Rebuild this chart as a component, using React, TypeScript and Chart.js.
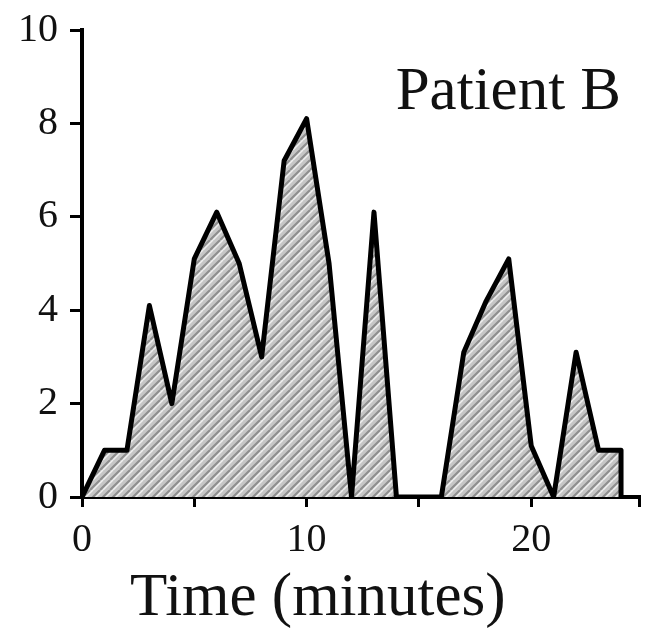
import React, { useEffect, useRef } from "react";
import { Chart, registerables } from "chart.js";

Chart.register(...registerables);

const timeMinutes = [0, 1, 2, 3, 4, 5, 6, 7, 8, 9, 10, 11, 12, 13, 14, 15, 16, 17, 18, 19, 20, 21, 22, 23, 24, 24];
const values = [0, 1, 1, 4.1, 2, 5.1, 6.1, 5, 3, 7.2, 8.1, 5, 0, 6.1, 0, 0, 0, 3.1, 4.2, 5.1, 1.1, 0, 3.1, 1, 1, 0];
const xTickLabels: Record<number, string> = { 0: "0", 10: "10", 20: "20" };
const yTicks = [0, 2, 4, 6, 8, 10];
const panelLabel = "Patient B";
const xTitle = "Time (minutes)";

const SERIF = "'Liberation Serif', 'DejaVu Serif', serif";

function makePattern(): CanvasPattern | string {
  const c = document.createElement("canvas");
  c.width = 10;
  c.height = 10;
  const g = c.getContext("2d");
  if (!g) return "#c0c0c0";
  g.fillStyle = "#c6c6c6";
  g.fillRect(0, 0, 10, 10);
  g.lineWidth = 2;
  g.strokeStyle = "#8e8e8e";
  for (const off of [-10, 0, 10]) {
    g.beginPath();
    g.moveTo(off, 10);
    g.lineTo(off + 10, 0);
    g.stroke();
  }
  g.lineWidth = 1.5;
  g.strokeStyle = "#efefef";
  for (const off of [-7, 3, 13]) {
    g.beginPath();
    g.moveTo(off, 10);
    g.lineTo(off + 10, 0);
    g.stroke();
  }
  const p = g.createPattern(c, "repeat");
  return p || "#c0c0c0";
}

const labelPlugin = {
  id: "panelLabel",
  afterDraw(chart: any) {
    const { ctx, scales } = chart;
    const x = scales.x.getPixelForValue(24.0);
    const y = scales.y.getPixelForValue(8.3);
    ctx.save();
    ctx.fillStyle = "#111";
    ctx.textBaseline = "alphabetic";
    ctx.font = `61px ${SERIF}`;
    ctx.textAlign = "right";
    ctx.fillText(panelLabel, x, y);
    // x-axis title
    ctx.font = `61px ${SERIF}`;
    ctx.textAlign = "center";
    const tx = scales.x.getPixelForValue(10.5);
    ctx.fillText(xTitle, tx, scales.x.bottom - 15);
    ctx.restore();
  },
};

export default function App() {
  const ref = useRef<HTMLCanvasElement | null>(null);
  useEffect(() => {
    document.body.style.margin = "0";
    const canvas = ref.current;
    if (!canvas) return;
    const chart = new Chart(canvas, {
      type: "line",
      data: {
        datasets: [
          {
            data: timeMinutes.map((t, i) => ({ x: t, y: values[i] })),
            borderColor: "#000",
            borderWidth: 5,
            borderJoinStyle: "round",
            backgroundColor: makePattern() as any,
            fill: "origin",
            pointRadius: 0,
            tension: 0,
          },
        ],
      },
      options: {
        animation: false,
        responsive: false,
        maintainAspectRatio: false,
        layout: { padding: { top: 30, right: 0, left: 0, bottom: 0 } },
        plugins: { legend: { display: false }, tooltip: { enabled: false } },
        scales: {
          x: {
            type: "linear",
            min: 0,
            max: 24.8,
            afterFit: (s: any) => {
              s.height = 133;
            },
            afterBuildTicks: (s: any) => {
              s.ticks = [0, 5, 10, 15, 20, 24.8].map((v) => ({ value: v }));
            },
            ticks: {
              autoSkip: false,
              maxRotation: 0,
              padding: 9,
              color: "#111",
              font: { family: SERIF, size: 40 },
              callback: (v: any) => xTickLabels[v as number] ?? "",
            },
            grid: { drawOnChartArea: false, drawTicks: true, tickLength: 10, color: "#000", lineWidth: 3 },
            border: { color: "#000", width: 4 },
          },
          y: {
            min: 0,
            max: 10,
            afterFit: (s: any) => {
              s.width = 82;
            },
            afterBuildTicks: (s: any) => {
              s.ticks = yTicks.map((v) => ({ value: v }));
            },
            ticks: {
              padding: 12,
              color: "#111",
              font: { family: SERIF, size: 40, lineHeight: 0.6 },
            },
            grid: { drawOnChartArea: false, drawTicks: true, tickLength: 12, color: "#000", lineWidth: 3 },
            border: { color: "#000", width: 4 },
          },
        },
      },
      plugins: [labelPlugin],
    });
    return () => chart.destroy();
  }, []);
  return (
    <div style={{ width: 648, height: 630 }}>
      <canvas ref={ref} width={648} height={630} style={{ display: "block" }} />
    </div>
  );
}
